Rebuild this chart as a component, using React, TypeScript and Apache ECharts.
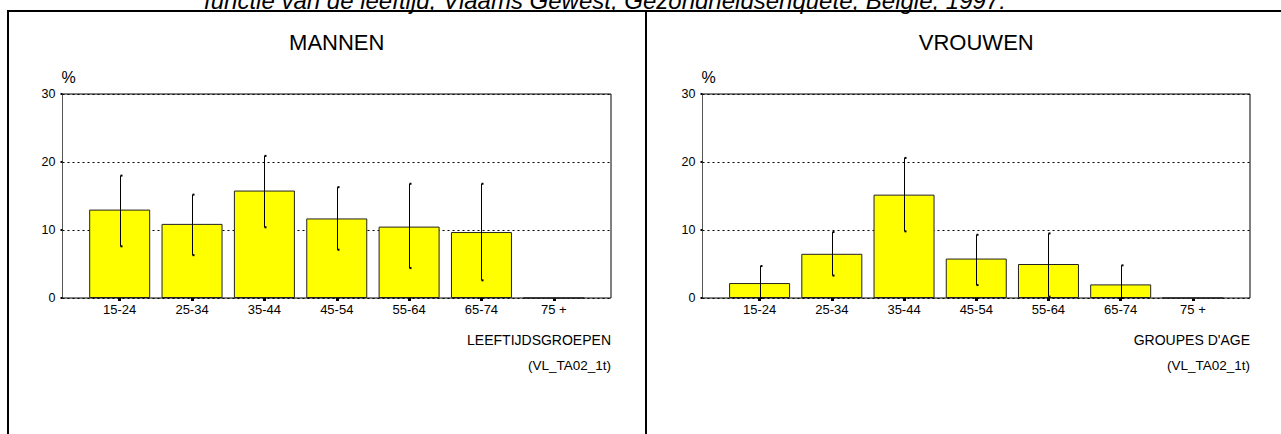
import React, { useEffect, useRef } from "react";
import * as echarts from "echarts";

const categories = ["15-24", "25-34", "35-44", "45-54", "55-64", "65-74", "75 +"];
const menValues = [13.0, 10.9, 15.8, 11.7, 10.5, 9.7, 0];
const menLow = [7.6, 6.3, 10.4, 7.1, 4.4, 2.6, null];
const menHigh = [18.0, 15.2, 20.9, 16.3, 16.8, 16.8, null];
const womenValues = [2.2, 6.5, 15.2, 5.8, 5.0, 2.0, 0];
const womenLow = [0, 3.3, 9.8, 1.9, 0.2, 0, null];
const womenHigh = [4.7, 9.7, 20.6, 9.3, 9.5, 4.8, null];
const yTicks = { min: 0, max: 30, interval: 10 };

const FONT = '"Liberation Sans", Arial, sans-serif';

const panels = [
  { title: "MANNEN", xName: "LEEFTIJDSGROEPEN", values: menValues, low: menLow, high: menHigh, left: 62.5, width: 548.5 },
  { title: "VROUWEN", xName: "GROUPES D'AGE", values: womenValues, low: womenLow, high: womenHigh, left: 702.5, width: 547.5 },
];

const TOP = 94;
const HEIGHT = 204;
const INSET = 21;

export default function App() {
  const ref = useRef<HTMLDivElement>(null);
  useEffect(() => {
    if (!ref.current) return;
    const chart = echarts.init(ref.current, undefined, { renderer: "svg" });
    const grid: any[] = [];
    const xAxis: any[] = [];
    const yAxis: any[] = [];
    const series: any[] = [];
    const graphic: any[] = [];

    panels.forEach((p, i) => {
      const gFrame = i * 2;
      const gInner = i * 2 + 1;
      grid.push({
        left: p.left, top: TOP, width: p.width, height: HEIGHT,
        show: true, borderColor: "#000", borderWidth: 1, backgroundColor: "transparent",
      });
      grid.push({ left: p.left + INSET, top: TOP, width: p.width - 2 * INSET, height: HEIGHT });
      xAxis.push({
        gridIndex: gFrame, type: "value", min: 0, max: 1,
        axisLine: { show: false }, axisTick: { show: false }, axisLabel: { show: false }, splitLine: { show: false },
      });
      xAxis.push({
        gridIndex: gInner, type: "category", data: categories,
        axisLine: { show: false },
        axisTick: { show: true, alignWithLabel: true, length: 3, lineStyle: { color: "#000", width: 3 } },
        axisLabel: { color: "#000", fontSize: 13, fontFamily: FONT, margin: 5, interval: 0 },
        splitLine: { show: false },
      });
      yAxis.push({
        gridIndex: gFrame, type: "value", ...yTicks,
        name: "%", nameLocation: "end", nameGap: 9,
        nameTextStyle: { color: "#000", fontSize: 16, fontFamily: FONT, align: "left", padding: [0, 0, 0, -1] },
        axisLine: { show: true, lineStyle: { color: "#555", width: 1 } },
        axisTick: { show: true, length: 2, lineStyle: { color: "#000", width: 2 } },
        axisLabel: { color: "#000", fontSize: 12.5, fontFamily: FONT, margin: 7 },
        splitLine: { show: true, lineStyle: { color: "#000", type: [2, 3], width: 1 } },
      });
      yAxis.push({ gridIndex: gInner, type: "value", ...yTicks, show: false, splitLine: { show: false } });

      series.push({
        type: "bar", xAxisIndex: gInner, yAxisIndex: gInner, data: p.values, barWidth: 61,
        itemStyle: { color: "#FFFF00", borderColor: "#222", borderWidth: 1 },
        z: 3,
      });
      series.push({
        type: "custom", xAxisIndex: gInner, yAxisIndex: gInner, z: 4,
        data: categories.map((_, k) => [k, p.low[k], p.high[k]]).filter((d) => d[1] !== null),
        encode: { x: 0, y: [1, 2] },
        renderItem: (params: any, api: any) => {
          const lo = api.coord([api.value(0), api.value(1)]);
          const hi = api.coord([api.value(0), api.value(2)]);
          const x = Math.round(lo[0]) + 0.5;
          const st = { stroke: "#000", lineWidth: 1 };
          return {
            type: "group",
            children: [
              { type: "line", shape: { x1: x, y1: lo[1], x2: x, y2: hi[1] }, style: st },
              { type: "line", shape: { x1: x, y1: lo[1], x2: x + 2, y2: lo[1] }, style: { stroke: "#000", lineWidth: 2 } },
              { type: "line", shape: { x1: x, y1: hi[1], x2: x + 2, y2: hi[1] }, style: { stroke: "#000", lineWidth: 2 } },
            ],
          };
        },
      });

      const cx = p.left + p.width / 2;
      const right = p.left + p.width;
      graphic.push({
        type: "text", x: cx, y: 42,
        style: { text: p.title, fontSize: 22, fontFamily: FONT, fill: "#000", align: "center", verticalAlign: "middle" },
      });
      graphic.push({
        type: "text", x: right, y: 340,
        style: { text: p.xName, fontSize: 14, fontFamily: FONT, fill: "#000", align: "right", verticalAlign: "middle" },
      });
      graphic.push({
        type: "text", x: right, y: 365,
        style: { text: "(VL_TA02_1t)", fontSize: 13.5, fontFamily: FONT, fill: "#000", align: "right", verticalAlign: "middle" },
      });
    });

    graphic.push({
      type: "text", x: 605, y: 12,
      style: {
        text: "functie van de leeftijd, Vlaams Gewest, Gezondheidsenquête, België, 1997.",
        fontSize: 24, fontStyle: "italic", fontFamily: FONT, fill: "#000", align: "center", verticalAlign: "bottom",
      },
    });
    graphic.push({ type: "line", shape: { x1: 7, y1: 11, x2: 1281, y2: 11 }, style: { stroke: "#000", lineWidth: 2 }, z: 10 });
    graphic.push({ type: "line", shape: { x1: 8, y1: 10, x2: 8, y2: 434 }, style: { stroke: "#000", lineWidth: 2 }, z: 10 });
    graphic.push({ type: "line", shape: { x1: 646, y1: 10, x2: 646, y2: 434 }, style: { stroke: "#000", lineWidth: 2 }, z: 10 });

    chart.setOption({
      animation: false,
      backgroundColor: "#fff",
      grid, xAxis, yAxis, series, graphic,
    });
    return () => chart.dispose();
  }, []);
  return (
    <div
      ref={ref}
      style={{ position: "fixed", left: 0, top: 0, width: 1281, height: 434, background: "#fff" }}
    />
  );
}
